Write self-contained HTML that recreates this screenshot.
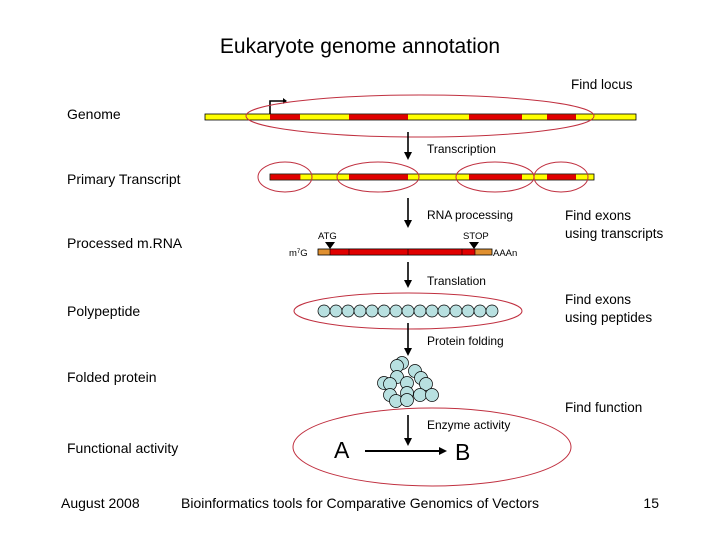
<!DOCTYPE html>
<html><head><style>
body{margin:0;background:#fff;}
svg text{font-family:"Liberation Sans",Arial,sans-serif;}
</style></head><body>
<svg width="720" height="540" viewBox="0 0 720 540" xmlns="http://www.w3.org/2000/svg">
<defs><marker id="ah" markerWidth="8" markerHeight="8" refX="6" refY="4" orient="auto" markerUnits="userSpaceOnUse"><path d="M0,0 L8,4 L0,8 z" fill="#000"/></marker></defs>
<text x="360" y="53" font-size="21" text-anchor="middle">Eukaryote genome annotation</text>
<text x="571" y="89" font-size="13.5">Find locus</text>
<text x="67" y="119" font-size="14">Genome</text>
<rect x="205" y="114" width="431" height="6" fill="#ffff00" stroke="#000" stroke-width="0.8"/>
<g fill="#e00000"><rect x="270" y="114.4" width="30" height="5.2"/><rect x="349" y="114.4" width="59" height="5.2"/><rect x="469" y="114.4" width="53" height="5.2"/><rect x="547" y="114.4" width="29" height="5.2"/></g>
<path d="M270,114 V101 H283" fill="none" stroke="#000" stroke-width="1.6"/><path d="M283,98 L287,101 L283,104z" fill="#000"/>
<ellipse cx="420" cy="116" rx="174" ry="21" fill="none" stroke="#c03040" stroke-width="1"/>
<line x1="408" y1="132" x2="408" y2="158" stroke="#000" stroke-width="1.6" marker-end="url(#ah)"/>
<text x="427" y="153" font-size="12">Transcription</text>
<text x="67" y="184" font-size="14">Primary Transcript</text>
<rect x="270" y="174" width="324" height="6" fill="#ffff00" stroke="#000" stroke-width="0.8"/>
<g fill="#e00000"><rect x="270.4" y="174.4" width="30" height="5.2"/><rect x="349" y="174.4" width="59" height="5.2"/><rect x="469" y="174.4" width="53" height="5.2"/><rect x="547" y="174.4" width="29" height="5.2"/></g>
<g fill="none" stroke="#c03040" stroke-width="1"><ellipse cx="285" cy="177" rx="27" ry="15"/><ellipse cx="378" cy="177" rx="41" ry="15"/><ellipse cx="495" cy="177" rx="39" ry="15"/><ellipse cx="561" cy="177" rx="27" ry="15"/></g>
<line x1="408" y1="198" x2="408" y2="226" stroke="#000" stroke-width="1.6" marker-end="url(#ah)"/>
<text x="427" y="219" font-size="12">RNA processing</text>
<text x="565" y="220" font-size="13.5">Find exons</text>
<text x="565" y="238" font-size="13.5">using transcripts</text>
<text x="67" y="248" font-size="14">Processed m.RNA</text>
<text x="318" y="239" font-size="9.5">ATG</text>
<text x="463" y="239" font-size="9.5">STOP</text>
<text x="289" y="256" font-size="9.5">m<tspan font-size="6" dy="-3">7</tspan><tspan dy="3">G</tspan></text>
<text x="493" y="256" font-size="9.5">AAAn</text>
<rect x="318" y="249" width="174" height="6" fill="#e09030" stroke="#000" stroke-width="0.8"/>
<rect x="330" y="249" width="145" height="6" fill="#e00000" stroke="#000" stroke-width="0.6"/>
<g stroke="#000" stroke-width="0.6"><line x1="349" y1="249" x2="349" y2="255"/><line x1="408" y1="249" x2="408" y2="255"/><line x1="462" y1="249" x2="462" y2="255"/></g>
<path d="M325,242 L335,242 L330,249z M469,242 L479,242 L474,249z" fill="#000"/>
<line x1="408" y1="262" x2="408" y2="286" stroke="#000" stroke-width="1.6" marker-end="url(#ah)"/>
<text x="427" y="285" font-size="12">Translation</text>
<text x="565" y="304" font-size="13.5">Find exons</text>
<text x="565" y="322" font-size="13.5">using peptides</text>
<text x="67" y="316" font-size="14">Polypeptide</text>
<ellipse cx="408" cy="311" rx="114" ry="18" fill="none" stroke="#c03040" stroke-width="1"/>
<g fill="#b8e0e0" stroke="#000" stroke-width="0.7">
<circle cx="324" cy="311" r="6"/><circle cx="336" cy="311" r="6"/><circle cx="348" cy="311" r="6"/><circle cx="360" cy="311" r="6"/><circle cx="372" cy="311" r="6"/><circle cx="384" cy="311" r="6"/><circle cx="396" cy="311" r="6"/><circle cx="408" cy="311" r="6"/><circle cx="420" cy="311" r="6"/><circle cx="432" cy="311" r="6"/><circle cx="444" cy="311" r="6"/><circle cx="456" cy="311" r="6"/><circle cx="468" cy="311" r="6"/><circle cx="480" cy="311" r="6"/><circle cx="492" cy="311" r="6"/>
</g>
<line x1="408" y1="323" x2="408" y2="354" stroke="#000" stroke-width="1.6" marker-end="url(#ah)"/>
<text x="427" y="345" font-size="12">Protein folding</text>
<text x="67" y="382" font-size="14">Folded protein</text>
<g fill="#b8e0e0" stroke="#000" stroke-width="0.7">
<circle cx="402" cy="363" r="6.5"/><circle cx="397" cy="366" r="6.5"/><circle cx="415" cy="371" r="6.5"/><circle cx="397" cy="377" r="6.5"/><circle cx="421" cy="378" r="6.5"/><circle cx="384" cy="383" r="6.5"/><circle cx="390" cy="384" r="6.5"/><circle cx="407" cy="383" r="6.5"/><circle cx="426" cy="384" r="6.5"/><circle cx="390" cy="395" r="6.5"/><circle cx="407" cy="393" r="6.5"/><circle cx="420" cy="395" r="6.5"/><circle cx="432" cy="395" r="6.5"/><circle cx="396" cy="401" r="6.5"/><circle cx="407" cy="400" r="6.5"/>
</g>
<text x="565" y="412" font-size="13.5">Find function</text>
<ellipse cx="432" cy="447" rx="139" ry="39" fill="none" stroke="#c03040" stroke-width="1"/>
<line x1="408" y1="415" x2="408" y2="444" stroke="#000" stroke-width="1.6" marker-end="url(#ah)"/>
<text x="427" y="429" font-size="12">Enzyme activity</text>
<text x="67" y="453" font-size="14">Functional activity</text>
<text x="334" y="458" font-size="23">A</text>
<text x="455" y="460" font-size="23">B</text>
<line x1="365" y1="451" x2="445" y2="451" stroke="#000" stroke-width="2" marker-end="url(#ah)"/>
<text x="61" y="508" font-size="14">August 2008</text>
<text x="360" y="508" font-size="14" text-anchor="middle">Bioinformatics tools for Comparative Genomics of Vectors</text>
<text x="659" y="508" font-size="14" text-anchor="end">15</text>
</svg>
</body></html>
